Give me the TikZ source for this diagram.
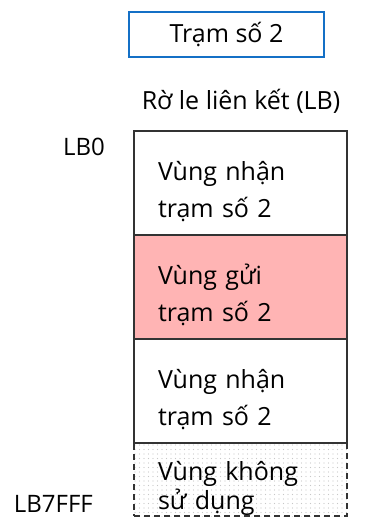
\documentclass[tikz,border=0pt]{standalone}
\usepackage{fontspec}
\setmainfont{Open Sans}
\usetikzlibrary{positioning,patterns.meta}

\definecolor{tramBlue}{RGB}{20,112,198}
\definecolor{guiPink}{RGB}{255,180,180}

\begin{document}
\begin{tikzpicture}[x=1pt,y=-1pt,
  vung/.style={draw=black!80, line width=1.4pt, outer sep=0pt,
    inner xsep=24pt, inner ysep=0pt, text width=165pt, align=left,
    minimum height=104pt, font=\fontsize{25}{37}\selectfont,
    execute at begin node={\rule{0pt}{37pt}}},
  nhan/.style={vung, fill=white},
  gui/.style={vung, fill=guiPink},
  trong/.style={vung, dash pattern=on 6pt off 4pt, minimum height=73pt,
    pattern={Dots[radius=0.6pt,distance=4.5pt]}, pattern color=black!22,
    font=\fontsize{25}{29}\selectfont,
    execute at begin node={\rule{0pt}{25pt}}},
  lbl/.style={font=\fontsize{24}{28}\selectfont, inner sep=0pt}]
\useasboundingbox (0,0) rectangle (383,517);
\fill[white] (0,0) rectangle (383,517);

% station box and heading
\node[lbl, font=\fontsize{25}{28}\selectfont, draw=tramBlue, line width=2.4pt,
  minimum width=195pt, minimum height=45pt] (tram) at (226.5,34.5) {Trạm số 2};
\node[lbl, font=\fontsize{25}{28}\selectfont, anchor=base] (lb) at (241,109)
  {Rờ le liên kết (LB)};

% LB areas, top to bottom
\node[nhan, anchor=north west] (nhan1) at (134,131) {Vùng nhận\\trạm số 2};
\node[gui, below=0pt of nhan1] (gui) {Vùng gửi\\trạm số 2};
\node[nhan, below=0pt of gui] (nhan2) {Vùng nhận\\trạm số 2};
\node[trong, below=0pt of nhan2] (trong) {Vùng không\\sử dụng};

% addresses
\node[lbl, anchor=base east] (lb0) at (105,155) {LB0};
\node[lbl, anchor=base east] (lb7fff) at (93,512) {LB7FFF};
\end{tikzpicture}
\end{document}
